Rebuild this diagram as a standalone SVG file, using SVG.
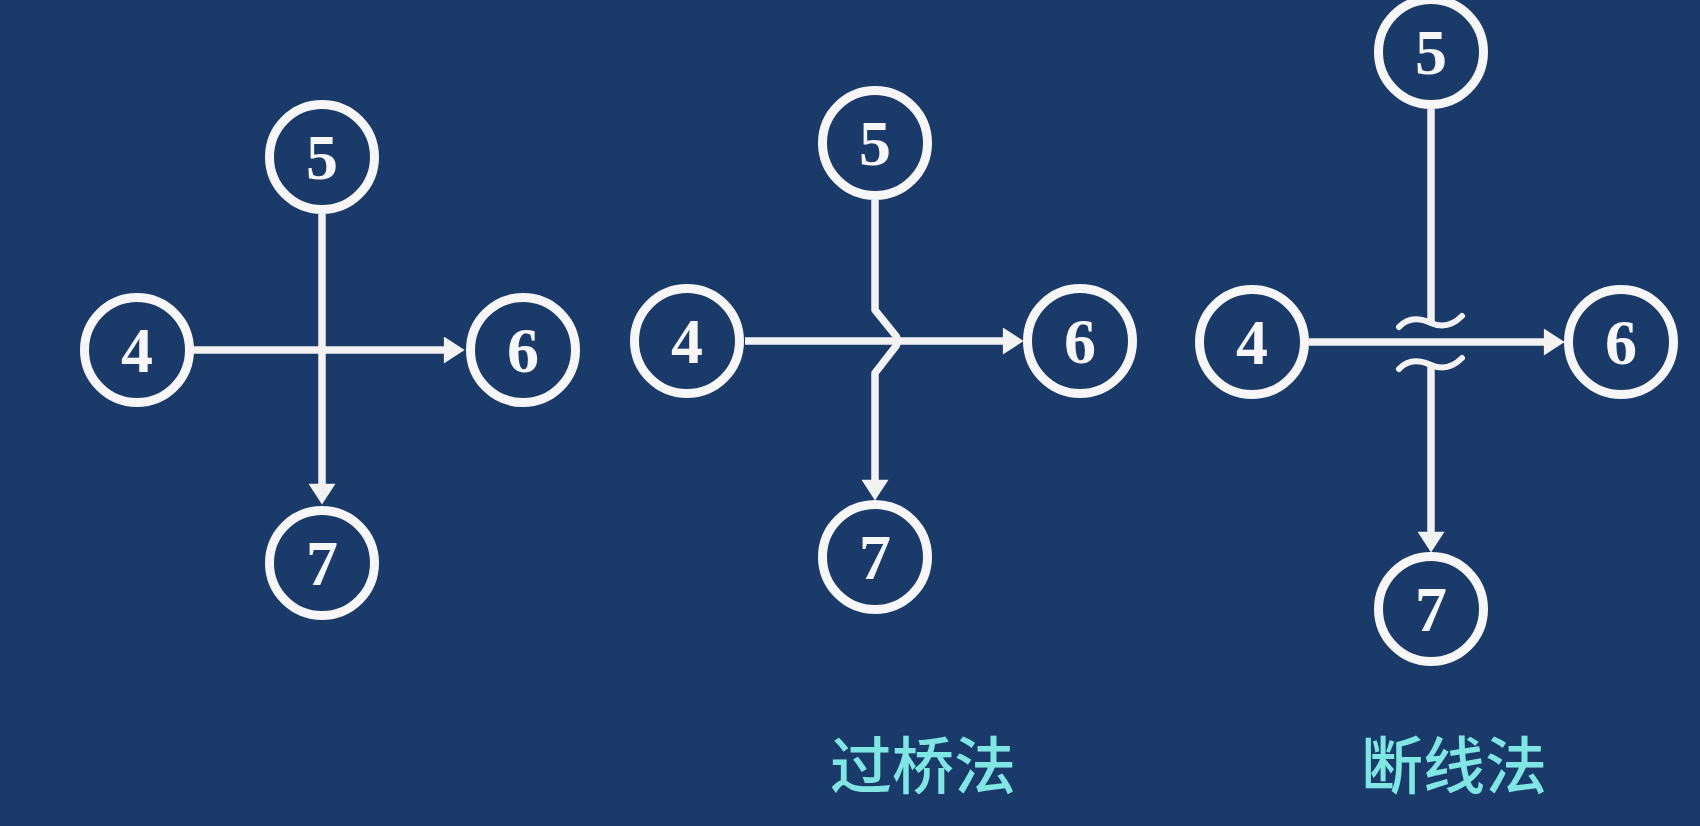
<svg xmlns="http://www.w3.org/2000/svg" width="1700" height="826" viewBox="0 0 1700 826">
<style>
.node circle{fill:none;stroke:#f6f6f6;stroke-width:9}
.node text{fill:#f6f6f6;font-family:"Liberation Serif","Times New Roman",serif;font-weight:bold;font-size:64px;text-anchor:middle}
.edge{fill:none;stroke:#f2f2f2;stroke-width:7.5;stroke-linejoin:round}
.tilde{fill:none;stroke:#f2f2f2;stroke-width:6;stroke-linecap:round}
.label{fill:#80e6e4;font-family:"Noto Sans CJK SC","Noto Sans",sans-serif;font-weight:500;font-size:62px;text-anchor:middle}
</style>
<defs>
<marker id="arr" markerUnits="userSpaceOnUse" markerWidth="22" markerHeight="27" viewBox="0 0 20 26" refX="4" refY="13" orient="auto">
<path d="M0,0 L20,13 L0,26 z" fill="#f2f2f2"/>
</marker>
</defs>
<rect width="1700" height="826" fill="#1a3a69"/>
<g id="connectors">
<path class="edge" d="M193,350 L448,350" marker-end="url(#arr)"/>
<path class="edge" d="M322,214 L322,488" marker-end="url(#arr)"/>
<path class="edge" d="M745,341 L1007,341" marker-end="url(#arr)"/>
<path class="edge" d="M875,200 L875,310 L896,336 Q899,341 896,346 L875,373 L875,484" marker-end="url(#arr)"/>
<path class="edge" d="M1309,342 L1548,342" marker-end="url(#arr)"/>
<path class="edge" d="M1431,109 L1431,323"/>
<path class="tilde" d="M1399,327 C1408,317 1420,318 1431,323 C1442,328 1452,326 1462,316"/>
<path class="tilde" d="M1399,369 C1408,359 1420,360 1431,365 C1442,370 1452,368 1462,358"/>
<path class="edge" d="M1431,365 L1431,536" marker-end="url(#arr)"/>
</g>
<g id="d1-n4" class="node"><circle cx="137" cy="350" r="52.5"/><text x="137" y="372">4</text></g>
<g id="d1-n5" class="node"><circle cx="322" cy="157" r="52.5"/><text x="322" y="179">5</text></g>
<g id="d1-n6" class="node"><circle cx="523" cy="350" r="52.5"/><text x="523" y="372">6</text></g>
<g id="d1-n7" class="node"><circle cx="322" cy="563" r="52.5"/><text x="322" y="585">7</text></g>
<g id="d2-n4" class="node"><circle cx="687" cy="341" r="52.5"/><text x="687" y="363">4</text></g>
<g id="d2-n5" class="node"><circle cx="875" cy="143" r="52.5"/><text x="875" y="165">5</text></g>
<g id="d2-n6" class="node"><circle cx="1080" cy="341" r="52.5"/><text x="1080" y="363">6</text></g>
<g id="d2-n7" class="node"><circle cx="875" cy="557" r="52.5"/><text x="875" y="579">7</text></g>
<g id="d3-n4" class="node"><circle cx="1252" cy="342" r="52.5"/><text x="1252" y="364">4</text></g>
<g id="d3-n5" class="node"><circle cx="1431" cy="52" r="52.5"/><text x="1431" y="74">5</text></g>
<g id="d3-n6" class="node"><circle cx="1621" cy="342" r="52.5"/><text x="1621" y="364">6</text></g>
<g id="d3-n7" class="node"><circle cx="1431" cy="609" r="52.5"/><text x="1431" y="631">7</text></g>
<g id="labels">
<text class="label" x="923" y="789">过桥法</text>
<text class="label" x="1454" y="789">断线法</text>
</g>
</svg>
